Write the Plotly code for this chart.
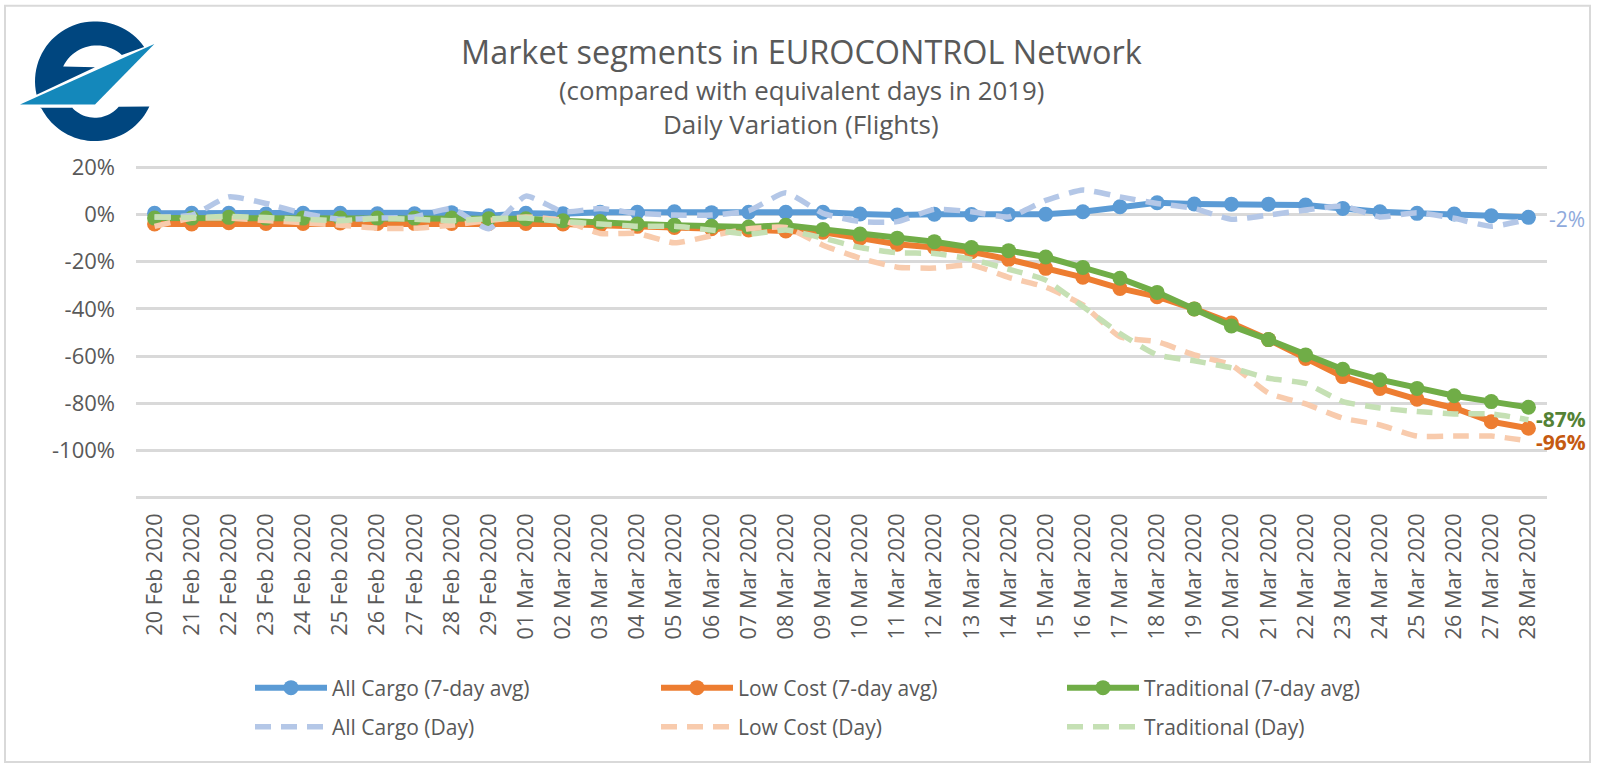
import numpy as np
import plotly.graph_objects as go

W, H = 1600, 767
L, R, T, B = 136, 1547, 164.64, 500.36

dates = ["20 Feb 2020","21 Feb 2020","22 Feb 2020","23 Feb 2020","24 Feb 2020","25 Feb 2020","26 Feb 2020","27 Feb 2020","28 Feb 2020","29 Feb 2020",
         "01 Mar 2020","02 Mar 2020","03 Mar 2020","04 Mar 2020","05 Mar 2020","06 Mar 2020","07 Mar 2020","08 Mar 2020","09 Mar 2020","10 Mar 2020",
         "11 Mar 2020","12 Mar 2020","13 Mar 2020","14 Mar 2020","15 Mar 2020","16 Mar 2020","17 Mar 2020","18 Mar 2020","19 Mar 2020","20 Mar 2020",
         "21 Mar 2020","22 Mar 2020","23 Mar 2020","24 Mar 2020","25 Mar 2020","26 Mar 2020","27 Mar 2020","28 Mar 2020"]

y_ticks = [20, 0, -20, -40, -60, -80, -100, -120]
y_tick_labels = ["20%", "0%", "-20%", "-40%", "-60%", "-80%", "-100%", ""]

cargo_avg = [0.5,0.5,0.5,0.2,0.5,0.5,0.3,0.3,0.8,-0.5,
             0.5,0.3,1,1,1.2,0.8,1,1,1,0.2,
             -0.2,0.1,0,0,0.1,1.2,3.3,5,4.5,4.4,
             4.4,4,2.6,1.2,0.5,0.2,-0.5,-1.2]
lowcost_avg = [-4,-4,-3.5,-3.8,-3.8,-3.6,-3.8,-3.8,-3.8,-3.8,
               -3.8,-4,-4.5,-5,-5.5,-6,-6.5,-7,-7.5,-10,
               -12.6,-14,-15.8,-19,-22.8,-26.6,-31.3,-34.8,-40,-46,
               -53,-61,-68.7,-73.7,-78.3,-82,-87.8,-90.6]
trad_avg = [-1.5,-1.5,-1.2,-1.5,-1.5,-1.5,-1.5,-1.5,-1.5,-1.8,
            -1.8,-2.6,-3,-4,-4.5,-5,-5.3,-4.5,-6.3,-8.3,
            -10,-11.5,-14,-15.3,-18,-22.4,-27,-33,-40,-47.2,
            -53,-59.5,-65.6,-70,-73.7,-76.8,-79.3,-81.7]
cargo_day = [-1,-0.3,7.5,4.7,0.5,-2,-1.5,-1,2.5,-6,
             7.8,1.2,2.6,0.5,-0.2,-0.2,1.6,9.2,0.5,-3,
             -3,2.2,1.2,-1,6,10.4,7.5,4.7,2.6,-2,
             -0.2,1.9,3.6,-1,0.8,-1.6,-5,-2]
lowcost_day = [-5,-1.6,-1.5,-2.5,-3.5,-4.5,-5.8,-5.8,-4.5,-2.5,
               -1,-2.5,-8,-8,-12,-9,-6,-5.5,-13,-18.5,
               -22.3,-22.7,-21.4,-26.6,-30.8,-38.3,-51.8,-53.9,-59.5,-63.8,
               -75.7,-80.3,-86.3,-89.2,-93.9,-93.9,-93.9,-96]
trad_day = [-1,-1.3,-0.8,-1.3,-2,-2.6,-1.7,-2,-2.6,-1.8,
            -1.5,-3,-4,-5,-5,-6.6,-8.3,-6.6,-10,-14,
            -16.2,-16.5,-19,-23.2,-27.8,-39,-50.4,-59.5,-62,-65,
            -69.4,-71.6,-79.3,-82,-83.5,-84.5,-84.5,-87]

FONT = "Open Sans"
GREY = "#595959"

fig = go.Figure()

def add_avg(name, vals, col):
    fig.add_trace(go.Scatter(x=dates, y=vals, name=name, mode="lines+markers", legend="legend",
                             line=dict(color=col, width=6), marker=dict(color=col, size=15)))

def add_day(name, vals, col):
    fig.add_trace(go.Scatter(x=dates, y=vals, name=name, mode="lines", legend="legend2",
                             line=dict(color=col, width=5.5, dash="16px,10px", shape="spline", smoothing=0.5)))

add_avg("All Cargo (7-day avg)", cargo_avg, "#5B9BD5")
add_avg("Low Cost (7-day avg)", lowcost_avg, "#ED7D31")
add_avg("Traditional (7-day avg)", trad_avg, "#70AD47")
add_day("All Cargo (Day)", cargo_day, "#B4C7E7")
add_day("Low Cost (Day)", lowcost_day, "#F8CBAD")
add_day("Traditional (Day)", trad_day, "#C5E0B4")

def px(x): return (x - L) / (R - L)
def py(y): return (B - y) / (B - T)

def poly(pts):
    return "M" + " L".join(f"{px(a):.5f},{py(b):.5f}" for a, b in pts) + " Z"

def arc(cx, cy, r, a0, a1, n=40):
    return [(cx + r*np.cos(t), cy + r*np.sin(t)) for t in np.radians(np.linspace(a0, a1, n))]

def z(*p):
    return [(a/3, b/3) for a, b in p]

# logo
CX, CY, RO = 95, 80.7, 60
upper = arc(CX, CY, RO, 167, 325) + arc(96.8, 82.2, 37.4, 312, 206, 24) + z((285,200))
lower = z((120,322),(215,322)) + arc(95, 86.4, 30.9, 138, 40, 24) + z((447,318)) + arc(CX, CY, RO, 25, 153)
wing = z((60,312),(463,130),(285,312))
shapes = [
    dict(type="path", xref="paper", yref="paper", path=poly(upper), fillcolor="#00467F", line=dict(width=0), layer="above"),
    dict(type="path", xref="paper", yref="paper", path=poly(lower), fillcolor="#00467F", line=dict(width=0), layer="above"),
    dict(type="path", xref="paper", yref="paper", path=poly(wing), fillcolor="#1488BB", line=dict(width=0), layer="above"),
    dict(type="rect", xref="paper", yref="paper", x0=px(5), x1=px(1590), y0=py(5), y1=py(763),
         line=dict(color="#D9D9D9", width=2), layer="below"),
]

def text_at(t, x, y, size, col=GREY):
    return dict(text=t, xref="paper", yref="paper", x=px(x), y=py(y), showarrow=False,
                xanchor="center", yanchor="middle", font=dict(family=FONT, size=size, color=col))

annotations = [
    text_at("Market segments in EUROCONTROL Network", 801, 50, 32.4),
    text_at("(compared with equivalent days in 2019)", 801, 89, 25.8),
    text_at("Daily Variation (Flights)", 801, 124, 26),
]
for vals, col, shift, yshift, bold in [(cargo_day, "#8FAADC", 19, 0, False), (trad_day, "#548235", 6, 1, True), (lowcost_day, "#C55A11", 6, -1, True)]:
    t = f"{vals[-1]:.0f}%"
    annotations.append(dict(text=f"<b>{t}</b>" if bold else t, x=dates[-1], y=vals[-1], xref="x", yref="y",
                            showarrow=False, xanchor="left", yanchor="middle", xshift=shift, yshift=yshift,
                            font=dict(family=FONT, size=21, color=col)))

legend_common = dict(orientation="h", xref="container", yref="container", xanchor="left", yanchor="middle",
                     entrywidthmode="pixels", entrywidth=319, itemwidth=72, traceorder="normal",
                     font=dict(family=FONT, size=21, color=GREY), bgcolor="rgba(0,0,0,0)", itemclick=False)

fig.update_layout(
    width=W, height=H, autosize=False,
    paper_bgcolor="white", plot_bgcolor="white",
    margin=dict(l=L, r=W-R, t=T, b=H-B),
    font=dict(family=FONT, color=GREY),
    showlegend=True,
    legend=dict(x=250/W, y=1-688/H, **legend_common),
    legend2=dict(x=250/W, y=1-727/H, **legend_common),
    shapes=shapes, annotations=annotations,
    xaxis=dict(type="category", categoryorder="array", categoryarray=dates, tickangle=-90, showgrid=False,
               showline=False, ticks="", zeroline=False, tickfont=dict(family=FONT, size=21.7, color=GREY),
               ticklabelstandoff=8, range=[-0.5, len(dates)-0.5]),
    yaxis=dict(range=[-121, 21], tickmode="array", tickvals=y_ticks, ticktext=y_tick_labels,
               gridcolor="#D9D9D9", gridwidth=2.5,
               zeroline=False, showline=False, ticks="", tickfont=dict(family=FONT, size=22, color=GREY),
               ticklabelstandoff=20),
)

fig.write_html("out.html", config=dict(displayModeBar=False), post_script="document.body.style.margin='0';")
